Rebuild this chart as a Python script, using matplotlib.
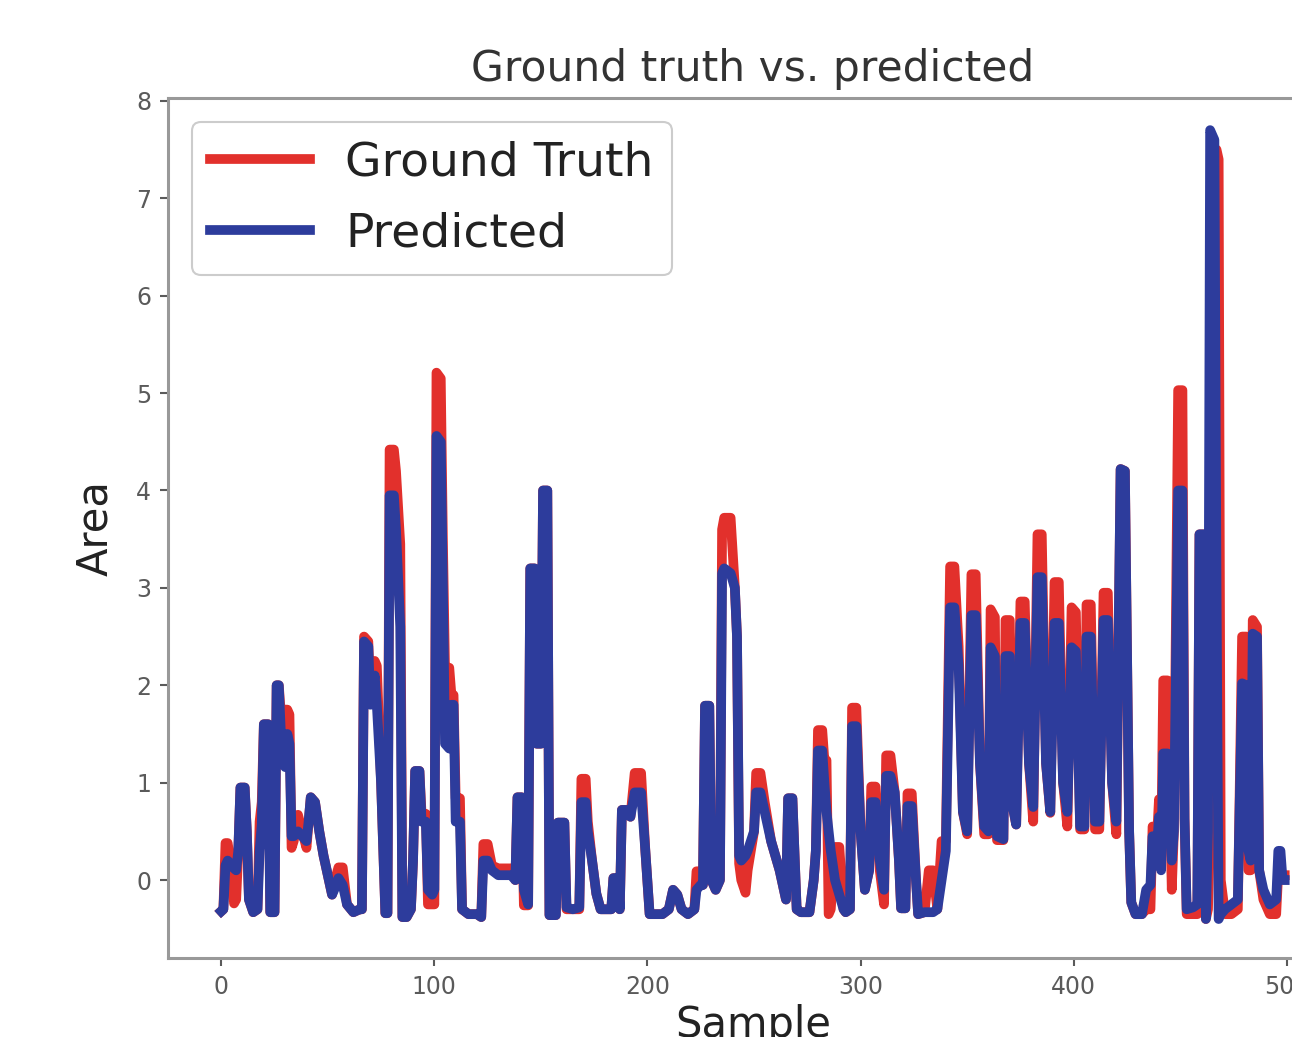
import matplotlib
matplotlib.use("Agg")
import matplotlib.pyplot as plt

# sample index keyframes and values
t = [0, 1, 2, 3, 5, 6, 7, 8, 9, 11, 12, 13, 15, 17, 18, 19, 20, 22, 23, 25,
     26, 27, 28, 30, 31, 32, 33, 34, 36, 38, 40, 41, 42, 44, 46, 48, 50, 52, 54, 55,
     57, 59, 62, 65, 66, 67, 69, 70, 72, 73, 75, 77, 78, 79, 81, 82, 84, 85, 87, 89,
     90, 91, 93, 94, 96, 97, 99, 100, 101, 103, 104, 105, 107, 108, 109, 110, 112, 113, 116, 120,
     122, 123, 125, 127, 130, 133, 136, 138, 139, 141, 142, 144, 145, 147, 148, 150, 151, 153, 154, 157,
     158, 161, 162, 165, 168, 169, 171, 172, 174, 176, 178, 183, 184, 186, 187, 188, 190, 192, 194, 197,
     199, 201, 205, 207, 210, 212, 214, 216, 219, 222, 223, 225, 226, 227, 229, 230, 232, 234, 235, 236,
     239, 241, 242, 243, 244, 246, 247, 250, 251, 253, 255, 258, 262, 265, 266, 268, 270, 272, 276, 278,
     279, 280, 282, 283, 284, 285, 286, 288, 290, 292, 293, 295, 296, 298, 300, 302, 304, 305, 307, 309,
     311, 312, 314, 316, 318, 319, 321, 322, 324, 326, 327, 330, 332, 334, 336, 338, 340, 342, 344, 346,
     348, 350, 352, 354, 356, 358, 360, 361, 363, 364, 367, 368, 370, 371, 373, 375, 377, 379, 381, 383,
     385, 387, 389, 391, 393, 395, 397, 399, 401, 403, 405, 406, 408, 410, 412, 414, 416, 418, 420, 422,
     424, 426, 427, 429, 432, 434, 436, 437, 439, 440, 441, 442, 444, 446, 447, 449, 451, 452, 453, 456,
     458, 459, 461, 462, 463, 464, 466, 467, 468, 469, 471, 474, 477, 479, 481, 482, 483, 484, 486, 487,
     489, 492, 495, 496, 497, 498, 499]

predicted = [
    -0.32, -0.30, 0.15, 0.20, 0.15, 0.12, 0.10, 0.30, 0.95, 0.95, 0.50, -0.20, -0.33, -0.30, 0.30, 0.57, 1.60, 1.60, -0.33, -0.33,
    2.00, 2.00, 1.50, 1.16, 1.50, 1.40, 0.45, 0.45, 0.50, 0.45, 0.40, 0.60, 0.85, 0.80, 0.50, 0.25, 0.05, -0.15, -0.05, 0.02,
    -0.05, -0.25, -0.33, -0.30, -0.30, 2.45, 2.40, 1.80, 2.10, 1.80, 1.00, -0.34, -0.34, 3.95, 3.95, 3.60, 2.60, -0.38, -0.38, -0.30,
    0.20, 1.12, 1.12, 0.60, 0.60, -0.10, -0.15, -0.10, 4.56, 4.50, 3.00, 1.40, 1.35, 1.80, 1.80, 0.60, 0.60, -0.30, -0.35, -0.35,
    -0.38, 0.20, 0.20, 0.10, 0.05, 0.05, 0.05, 0.00, 0.85, 0.85, -0.10, -0.25, 3.20, 3.20, 1.40, 1.40, 4.00, 4.00, -0.36, -0.36,
    0.59, 0.59, -0.28, -0.30, -0.28, 0.80, 0.80, 0.50, 0.20, -0.14, -0.30, -0.30, 0.02, 0.02, -0.30, 0.72, 0.72, 0.65, 0.90, 0.90,
    0.30, -0.35, -0.35, -0.35, -0.30, -0.10, -0.15, -0.30, -0.35, -0.30, -0.10, -0.05, -0.05, 1.79, 1.79, 0.00, -0.10, 0.00, 3.15, 3.20,
    3.15, 3.00, 2.50, 0.25, 0.20, 0.25, 0.30, 0.50, 0.90, 0.90, 0.70, 0.40, 0.10, -0.20, 0.84, 0.84, -0.30, -0.33, -0.33, 0.00,
    0.30, 1.33, 1.33, 1.00, 0.70, 0.50, 0.30, 0.00, -0.15, -0.30, -0.33, -0.30, 1.58, 1.58, 0.50, -0.10, 0.10, 0.80, 0.80, 0.20,
    -0.10, 1.07, 1.07, 0.90, 0.20, -0.29, -0.29, 0.76, 0.76, 0.00, -0.35, -0.33, -0.33, -0.33, -0.30, 0.00, 0.30, 2.80, 2.80, 2.20,
    0.70, 0.50, 2.72, 2.72, 1.20, 0.55, 0.50, 2.39, 2.30, 0.45, 0.42, 2.30, 2.30, 0.80, 0.57, 2.64, 2.64, 1.20, 0.75, 3.11,
    3.11, 1.20, 0.70, 2.64, 2.64, 1.00, 0.70, 2.39, 2.35, 0.55, 0.55, 2.50, 2.50, 0.60, 0.60, 2.67, 2.67, 1.00, 0.60, 4.22,
    4.20, 0.50, -0.23, -0.35, -0.35, -0.10, -0.05, 0.45, 0.30, 0.65, 0.10, 1.30, 1.30, 0.20, 0.50, 4.00, 4.00, 0.63, -0.30, -0.28,
    -0.25, 3.55, 3.55, -0.40, 0.50, 7.70, 7.60, 3.00, -0.40, -0.35, -0.30, -0.25, -0.20, 2.02, 2.00, 0.30, 0.20, 2.53, 2.50, 0.10,
    -0.10, -0.25, -0.20, 0.30, 0.30, 0.00, 0.00]

ground_truth = [
    -0.32, -0.30, 0.38, 0.38, 0.10, -0.24, -0.20, 0.30, 0.95, 0.95, 0.50, -0.20, -0.33, -0.30, 0.60, 0.80, 1.60, 1.60, -0.33, -0.33,
    2.00, 2.00, 1.70, 1.75, 1.75, 1.70, 0.33, 0.40, 0.67, 0.50, 0.33, 0.60, 0.85, 0.80, 0.50, 0.25, 0.05, -0.15, 0.05, 0.13,
    0.13, -0.25, -0.33, -0.30, -0.30, 2.50, 2.45, 1.90, 2.25, 2.20, 1.00, -0.34, -0.34, 4.42, 4.42, 4.20, 3.45, -0.38, -0.38, -0.30,
    0.20, 1.12, 1.12, 0.68, 0.68, -0.25, -0.25, -0.25, 5.21, 5.15, 3.50, 2.18, 2.18, 1.90, 1.90, 0.84, 0.84, -0.30, -0.35, -0.35,
    -0.38, 0.37, 0.37, 0.15, 0.12, 0.12, 0.12, 0.00, 0.85, 0.85, -0.26, -0.26, 3.20, 3.20, 1.40, 1.40, 4.00, 4.00, -0.36, -0.36,
    0.59, 0.59, -0.30, -0.30, -0.30, 1.04, 1.04, 0.60, 0.20, -0.14, -0.30, -0.30, 0.02, 0.02, -0.30, 0.72, 0.72, 0.65, 1.10, 1.10,
    0.30, -0.35, -0.35, -0.35, -0.30, -0.10, -0.15, -0.30, -0.35, -0.30, 0.09, 0.09, -0.05, 1.79, 1.79, 0.00, -0.10, 0.00, 3.60, 3.72,
    3.72, 3.00, 2.50, 0.17, 0.00, -0.13, 0.10, 0.50, 1.10, 1.10, 0.80, 0.40, 0.10, -0.20, 0.84, 0.84, -0.30, -0.33, -0.33, 0.00,
    0.30, 1.54, 1.54, 1.23, 1.23, -0.35, -0.30, 0.34, 0.34, -0.30, -0.33, -0.30, 1.77, 1.77, 0.50, -0.10, 0.10, 0.96, 0.96, 0.10,
    -0.25, 1.28, 1.28, 0.90, 0.20, -0.29, -0.29, 0.89, 0.89, 0.00, -0.35, -0.33, 0.10, 0.10, -0.30, 0.40, 0.40, 3.22, 3.22, 2.40,
    0.70, 0.47, 3.14, 3.14, 1.20, 0.47, 0.47, 2.78, 2.70, 0.41, 0.41, 2.67, 2.67, 0.80, 0.57, 2.86, 2.86, 1.20, 0.60, 3.55,
    3.55, 1.20, 0.69, 3.06, 3.06, 1.00, 0.55, 2.80, 2.75, 0.52, 0.52, 2.83, 2.83, 0.52, 0.52, 2.95, 2.95, 1.00, 0.47, 4.22,
    4.20, 0.50, -0.23, -0.35, -0.35, -0.30, -0.30, 0.55, 0.40, 0.83, 0.20, 2.05, 2.05, -0.10, 0.50, 5.03, 5.03, 0.63, -0.35, -0.35,
    -0.35, 3.55, 3.55, -0.40, -0.30, 0.50, 7.50, 7.50, 7.40, 0.00, -0.35, -0.35, -0.30, 2.50, 2.50, 0.10, 0.10, 2.67, 2.60, 0.10,
    -0.20, -0.35, -0.35, 0.10, 0.05, 0.05, 0.05]

x_ticks = [0, 100, 200, 300, 400, 500]
y_ticks = [0, 1, 2, 3, 4, 5, 6, 7, 8]

fig = plt.figure(figsize=(12.92, 10.37), dpi=100)
ax = fig.add_axes([0.1300, 0.0762, 0.9056, 0.8293])

ax.plot(t, ground_truth, color="#e2302c", lw=7, label="Ground Truth", solid_joinstyle="round")
ax.plot(t, predicted, color="#2d3c9c", lw=7, label="Predicted", solid_joinstyle="round")

ax.set_xlim(-25, 524)
ax.set_ylim(-0.8, 8.03)
ax.set_xticks(x_ticks)
ax.set_yticks(y_ticks)
ax.tick_params(labelsize=17, colors="#5a5a5a", length=6, width=1.5, pad=6)
for sp in ax.spines.values():
    sp.set_color("#999999")
    sp.set_linewidth(2.2)

ax.set_title("Ground truth vs. predicted", fontsize=30.5, color="#333333", pad=12)
ax.set_xlabel("Sample", fontsize=30, color="#222222", labelpad=4)
ax.set_ylabel("Area", fontsize=30, color="#222222", labelpad=14)

leg = ax.legend(loc="upper left", fontsize=34, handlelength=2.1, handletextpad=0.75,
                labelspacing=0.55, borderaxespad=0.5, fancybox=True, framealpha=1.0)
leg.get_frame().set_edgecolor("#cccccc")
leg.get_frame().set_linewidth(1.5)
for txt in leg.get_texts():
    txt.set_color("#222222")

fig.savefig("out.png", dpi=100, facecolor="white")
